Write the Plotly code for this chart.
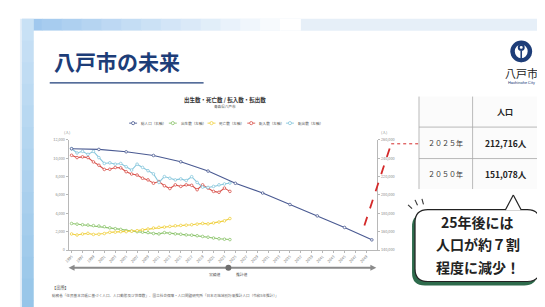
import plotly.graph_objects as go

W, H = 545, 307
def px(x): return x / W
def py(y): return 1 - y / H

# ---------------- data ----------------
years = list(range(1995, 2025))
births = [2890, 2820, 2760, 2720, 2660, 2620, 2540, 2420, 2330, 2250, 2120, 2070, 2000, 1950, 1900,
          1800, 1760, 1900, 1820, 1760, 1720, 1650, 1620, 1560, 1480, 1400, 1310, 1230, 1180, 1140]
deaths = [1750, 1640, 1750, 1820, 1700, 1720, 1800, 1930, 1950, 2000, 2000, 2050, 2110, 2200, 2290,
          2400, 2470, 2500, 2570, 2640, 2680, 2710, 2760, 2820, 2900, 2850, 2950, 3050, 3180, 3430]
moves_in = [10320, 10070, 10150, 10070, 9600, 9240, 8780, 8800, 8990, 8950, 8530, 8280, 8170, 7820, 7640,
            7280, 7460, 7000, 6700, 7100, 6930, 7100, 7050, 6570, 7100, 6750, 6390, 6290, 6750, 6390]
moves_out = [11030, 10570, 10750, 10420, 10750, 10070, 9430, 9500, 9350, 9430, 9070, 8710, 9350, 9000, 8640,
             8300, 7360, 8000, 7820, 7640, 7750, 7570, 7990, 7360, 6850, 6820, 6930, 7100, 7200, 7300]
pop_years = [1995, 2000, 2005, 2010, 2015, 2020, 2025, 2030, 2035, 2040, 2045, 2050]
population = [250400, 249600, 247000, 243000, 236100, 226000, 212716, 202100, 189600, 177200, 164600, 151078]

x_ticks = list(range(1995, 2051, 2))
left_ticks = [0, 2000, 4000, 6000, 8000, 10000, 12000]
right_ticks = [140000, 160000, 180000, 200000, 220000, 240000, 260000]

series_names = ["総人口（右軸）", "出生数（左軸）", "死亡数（左軸）", "転入数（左軸）", "転出数（左軸）"]
series_colors = ["#4a5a92", "#8cc46c", "#f0d040", "#d8514a", "#86c6dc"]

table_rows = ["２０２５年", "２０５０年"]
table_vals = ["212,716人", "151,078人"]

FONT = "Noto Sans CJK JP"
NAVY = "#1d3d78"

fig = go.Figure()

def add_series(x, y, name, color, axis="y"):
    fig.add_trace(go.Scatter(
        x=x, y=y, name=name, yaxis=axis, mode="lines+markers",
        line=dict(color=color, width=1.1),
        marker=dict(symbol="circle", size=2.6, color="white", line=dict(color=color, width=0.8)),
        showlegend=False, hoverinfo="skip"))

add_series(years, births, series_names[1], series_colors[1])
add_series(years, deaths, series_names[2], series_colors[2])
add_series(years, moves_in, series_names[3], series_colors[3])
add_series(years, moves_out, series_names[4], series_colors[4])
add_series(pop_years, population, series_names[0], series_colors[0], axis="y2")

shapes = []
ann = []

def rect(x0, y0, x1, y1, fill, line=None, lw=0, layer="below"):
    shapes.append(dict(type="rect", xref="paper", yref="paper", x0=px(x0), x1=px(x1), y0=py(y1), y1=py(y0),
                       fillcolor=fill, line=dict(color=line or fill, width=lw), layer=layer))

def seg(x0, y0, x1, y1, color, width=1, dash="solid", layer="above"):
    shapes.append(dict(type="line", xref="paper", yref="paper", x0=px(x0), y0=py(y0), x1=px(x1), y1=py(y1),
                       line=dict(color=color, width=width, dash=dash), layer=layer))

def path(pts, fill, line_color=None, lw=0, layer="above"):
    d = "M " + " L ".join(f"{px(a):.5f},{py(b):.5f}" for a, b in pts) + " Z"
    shapes.append(dict(type="path", xref="paper", yref="paper", path=d, fillcolor=fill,
                       line=dict(color=line_color or fill, width=lw), layer=layer))

def rrect(x0, y0, x1, y1, r, fill, line_color, lw, layer="above"):
    P = lambda a, b: f"{px(a):.5f},{py(b):.5f}"
    d = (f"M {P(x0+r,y0)} L {P(x1-r,y0)} Q {P(x1,y0)} {P(x1,y0+r)} L {P(x1,y1-r)} Q {P(x1,y1)} {P(x1-r,y1)} "
         f"L {P(x0+r,y1)} Q {P(x0,y1)} {P(x0,y1-r)} L {P(x0,y0+r)} Q {P(x0,y0)} {P(x0+r,y0)} Z")
    shapes.append(dict(type="path", xref="paper", yref="paper", path=d, fillcolor=fill,
                       line=dict(color=line_color, width=lw), layer=layer))

def text(x, y, s, size, color="#333", bold=False, anchor="center", font=FONT):
    if bold:
        s = f"<b>{s}</b>"
    ann.append(dict(x=px(x), y=py(y), xref="paper", yref="paper", text=s, showarrow=False,
                    xanchor=anchor, yanchor="middle", font=dict(family=font, size=size, color=color)))

# ---------------- slide background ----------------
rect(8, 8, 545, 307, "#e6eff8")
steps = 14
for i in range(steps):
    t = i / (steps - 1)
    # top band fading to the right
    c = (int(160 + 95 * t), int(200 + 55 * t), int(238 + 17 * t))
    rect(10 + i * 20, 8, 10 + (i + 1) * 20 + 1, 20, f"rgb{c}")
for i in range(steps):
    t = i / (steps - 1)
    c = (int(200 - 50 * t), int(225 - 28 * t), int(245 - 12 * t))
    rect(10, 8 + i * 22, 22, 8 + (i + 1) * 22 + 1, f"rgb{c}")
    c2 = (int(245 - 100 * t), int(248 - 52 * t), int(252 - 16 * t))
    rect(536, 8 + i * 22, 545, 8 + (i + 1) * 22 + 1, f"rgb{c2}")
rect(22, 20, 536, 307, "#ffffff")

# ---------------- title ----------------
text(40, 51, "八戸市の未来", 21, NAVY, bold=True, anchor="left")
seg(38, 73, 193, 73, NAVY, 1.3)

# logo
shapes.append(dict(type="circle", xref="paper", yref="paper", x0=px(502), x1=px(524), y0=py(52), y1=py(30),
                   fillcolor=NAVY, line=dict(color=NAVY, width=0)))
shapes.append(dict(type="circle", xref="paper", yref="paper", x0=px(506.5), x1=px(519.5), y0=py(48), y1=py(34),
                   fillcolor="white", line=dict(color="white", width=0)))
shapes.append(dict(type="circle", xref="paper", yref="paper", x0=px(509.5), x1=px(516.5), y0=py(40.5), y1=py(33.5),
                   fillcolor=NAVY, line=dict(color=NAVY, width=0)))
shapes.append(dict(type="circle", xref="paper", yref="paper", x0=px(511.5), x1=px(514.5), y0=py(38.5), y1=py(35.5),
                   fillcolor="white", line=dict(color="white", width=0)))
seg(513, 40, 513, 52, NAVY, 1.6)
text(513, 63, "八戸市", 11, "#222")
text(513, 73, "Hachinohe City", 4, NAVY, font="Roboto")

# ---------------- chart text ----------------
text(215, 90, "出生数・死亡数 / 転入数・転出数", 5.5, "#333", bold=True)
text(215, 97, "青森県八戸市", 3.6, "#555")
text(55, 124, "(人)", 3.8, "#777")
text(370, 124, "(人)", 3.8, "#777", anchor="left")

leg_x = [122, 162, 201, 241, 280]
for xx, name, col in zip(leg_x, series_names, series_colors):
    seg(xx - 4, 114, xx + 4, 114, col, 0.9)
    shapes.append(dict(type="circle", xref="paper", yref="paper", x0=px(xx - 1.6), x1=px(xx + 1.6),
                       y0=py(115.6), y1=py(112.4), fillcolor="white", line=dict(color=col, width=0.8)))
    text(xx + 6, 114, name, 3.6, "#555", anchor="left")

# period arrow
seg(62, 261, 362, 261, "#8a8a8a", 2.2)
path([(57, 261), (63, 258), (63, 264)], "#8a8a8a")
path([(367, 261), (361, 258), (361, 264)], "#8a8a8a")
shapes.append(dict(type="circle", xref="paper", yref="paper", x0=px(215), x1=px(221), y0=py(264), y1=py(258),
                   fillcolor="#6f6f6f", line=dict(color="#6f6f6f", width=0)))
text(213, 268, "実績値", 3.8, "#555", anchor="right")
text(224, 268, "推計値", 3.8, "#555", anchor="left")

# red dashed annotation line
seg(355, 218, 382, 135, "#d42a2a", 1.8, dash="dash")
seg(382, 135, 410, 135, "#d42a2a", 1.0, dash="dot")

# ---------------- table ----------------
rect(410, 87, 535, 181, "#fbfbfb", layer="above")
for yy in (118, 150):
    seg(410, yy, 535, yy, "#a8a8a8", 0.8)
seg(410, 87, 410, 181, "#a8a8a8", 0.8)
seg(464, 87, 464, 181, "#a8a8a8", 0.8)
text(497, 102, "人口", 8, "#222", bold=True)
for i, (lab, val) in enumerate(zip(table_rows, table_vals)):
    yy = 134 + i * 32
    text(437, yy, lab, 7, "#333")
    text(498, yy, val, 8.5, "#222", bold=True)

# ---------------- speech bubble ----------------
rrect(403, 206, 529, 279, 13, "#2e6b4c", "#2e6b4c", 0)
rrect(406, 202, 532, 275, 13, "white", "#222", 1.2)
path([(505, 187), (497, 202.6), (513, 202.6)], "white")
seg(497, 202.2, 505, 187, "#222", 1.2)
seg(505, 187, 513, 202.2, "#222", 1.2)
seg(399, 197, 403, 201, "#333", 1.1)
seg(406, 192, 408.5, 197.5, "#333", 1.1)
seg(413, 191, 414.5, 196.5, "#333", 1.1)
text(469, 215, "25年後には", 14, "#222", bold=True)
text(469, 237, "人口が約７割", 14, "#222", bold=True)
text(469, 260, "程度に減少！", 14, "#222", bold=True)

# ---------------- footnote ----------------
text(38, 281, "【出所】", 4.2, "#444", anchor="left")
text(38, 289, "総務省「住民基本台帳に基づく人口、人口動態及び世帯数」、国立社会保障・人口問題研究所「日本の地域別将来推計人口（令和5年推計）」",
     3.6, "#666", anchor="left")

axis_common = dict(showgrid=False, zeroline=False, showline=True, linecolor="#b8b8b8", linewidth=0.8,
                   ticks="outside", ticklen=2, tickcolor="#b8b8b8",
                   tickfont=dict(family=FONT, size=3.8, color="#888"))

fig.update_layout(
    width=W, height=H, margin=dict(l=0, r=0, t=0, b=0),
    paper_bgcolor="white", plot_bgcolor="rgba(0,0,0,0)", showlegend=False,
    xaxis=dict(domain=[px(57), px(368)], range=[1994.45, 2051], tickvals=x_ticks,
               ticktext=[str(v) for v in x_ticks], tickangle=-45, **axis_common),
    yaxis=dict(domain=[py(243), py(131)], range=[0, 12000], tickvals=left_ticks, tickformat=",",
               **axis_common),
    yaxis2=dict(overlaying="y", side="right", anchor="x", range=[140000, 260000], tickvals=right_ticks,
                tickformat=",", **axis_common),
    shapes=shapes, annotations=ann,
)

fig.write_html("out.html")
